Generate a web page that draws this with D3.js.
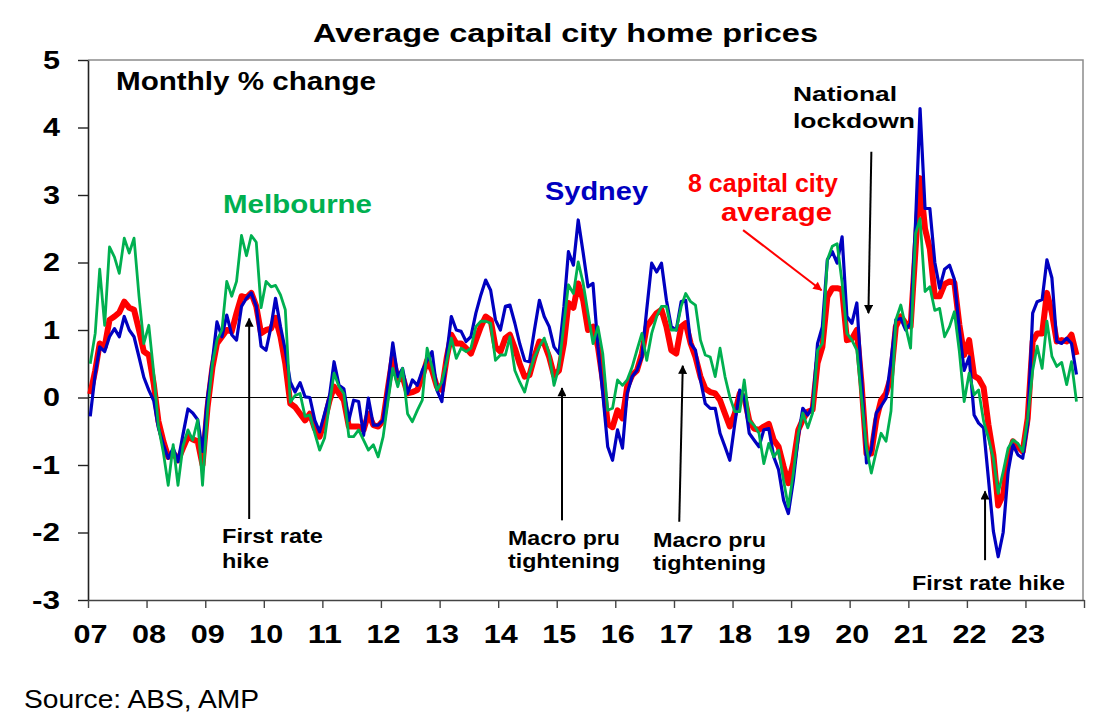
<!DOCTYPE html>
<html>
<head>
<meta charset="utf-8">
<title>Average capital city home prices</title>
<script src="https://cdn.jsdelivr.net/npm/d3@7"></script>
<style>
  body { margin: 0; background: #fff; }
  text { font-family: "Liberation Sans", Arial, sans-serif; }
</style>
</head>
<body>
<div id="chart-area"></div>
<script>
// monthly % change, Jan 2007 .. Nov 2023 (one row per year)
const startYear = 2007;

const sydney = [
  -0.28, 0.35, 0.75, 0.68, 0.9, 1.02, 0.9, 1.2, 1.0, 0.9, 0.6, 0.3,
  0.11, -0.05, -0.45, -0.7, -0.9, -0.75, -0.95, -0.55, -0.17, -0.23, -0.33, -0.8,
  0.0, 0.55, 1.12, 0.9, 1.22, 0.93, 0.85, 1.35, 1.47, 1.55, 1.35, 0.76,
  0.7, 1.05, 1.47, 1.05, 0.7, 0.23, 0.08, 0.22, 0.01, 0.0, -0.34, -0.51,
  -0.24, 0.03, 0.53, 0.18, 0.13, -0.34, -0.04, -0.06, -0.56, -0.01, -0.41, -0.41,
  -0.34, 0.21, 0.81, 0.31, 0.43, 0.06, 0.26, 0.18, 0.4, 0.55, 0.68, 0.11,
  -0.06, 0.65, 1.2, 1.0, 0.98, 0.83, 0.9, 1.25, 1.52, 1.74, 1.59, 1.15,
  1.0, 1.35, 1.37, 1.1, 0.8, 0.55, 0.53, 1.0, 1.44, 1.2, 1.05, 0.75,
  0.65, 1.35, 2.16, 1.96, 2.63, 2.14, 1.64, 1.69, 0.75, 0.06, -0.73, -0.93,
  -0.48, -0.75, 0.06, 0.31, 0.4, 0.6, 1.3, 1.99, 1.86, 1.99, 1.44, 1.05,
  1.0, 1.42, 1.44, 0.8, 0.7, 0.26, -0.09, -0.16, -0.16, -0.53, -0.73, -0.93,
  -0.39, 0.11, 0.01, -0.53, -0.63, -0.73, -0.48, -0.46, -0.88, -1.07, -1.52, -1.72,
  -1.23, -0.58, -0.16, -0.26, -0.13, 0.8, 1.05, 2.04, 2.16, 1.99, 2.38, 1.2,
  1.1, 1.4, 0.3, -0.97, -0.78, -0.23, -0.13, -0.01, 0.55, 1.15, 1.17, 1.0,
  1.1, 2.6, 4.28, 2.8, 2.8, 2.0, 1.62, 1.9, 1.96, 1.75, 1.0, 0.4,
  0.6, -0.26, -0.38, -0.45, -1.2, -1.98, -2.36, -2.0, -1.1, -0.7, -0.85, -0.9,
  -0.4, 1.25, 1.42, 1.45, 2.04, 1.77, 0.83, 0.8, 0.88, 0.8, 0.34
];

const melbourne = [
  0.5, 0.95, 1.9, 1.07, 2.23, 2.08, 1.84, 2.36, 2.14, 2.36, 1.5, 0.8,
  1.07, 0.36, -0.43, -0.82, -1.3, -0.7, -1.3, -0.72, -0.48, -0.63, -0.33, -1.3,
  -0.2, 0.5, 0.85, 1.0, 1.72, 1.5, 1.72, 2.4, 2.1, 2.4, 2.3, 1.33,
  1.72, 1.64, 1.66, 1.52, 1.3, -0.07, 0.03, 0.06, -0.28, -0.26, -0.53, -0.78,
  -0.6, -0.09, 0.36, 0.16, 0.06, -0.58, -0.58, -0.48, -0.63, -0.78, -0.7, -0.88,
  -0.58, -0.04, 0.43, 0.16, 0.43, -0.24, -0.36, -0.19, -0.04, 0.73, 0.45, 0.11,
  0.23, 0.55, 0.88, 0.58, 0.73, 0.68, 0.73, 1.05, 1.13, 1.13, 1.1, 0.55,
  0.63, 0.63, 0.9, 0.4, 0.23, 0.08, 0.36, 0.6, 0.75, 0.88, 0.65, 0.18,
  0.45, 1.1, 1.67, 1.54, 2.01, 1.69, 1.25, 0.8, 1.05, 0.65, -0.19, -0.16,
  0.26, 0.18, 0.26, 0.45, 0.7, 0.95, 0.55, 0.95, 1.2, 1.35, 1.35, 1.0,
  1.0, 1.35, 1.54, 1.42, 1.37, 0.85, 0.63, 0.6, 0.31, 0.73, 0.31, 0.01,
  -0.21, -0.21, 0.26, -0.34, -0.41, -0.53, -0.98, -0.68, -0.88, -0.78, -1.23, -1.62,
  -1.12, -0.53, -0.23, -0.45, -0.23, 0.7, 0.8, 2.04, 2.24, 2.28, 1.7, 0.95,
  0.85, 0.7, 0.0, -0.75, -1.12, -0.8, -0.53, -0.65, -0.2, 1.15, 1.37, 1.05,
  0.73, 2.43, 2.65, 1.57, 1.64, 1.29, 1.32, 0.9, 1.05, 1.27, 0.68, -0.06,
  0.36, 0.04, 0.11, -0.35, -0.6, -0.9, -1.42, -1.1, -0.75, -0.63, -0.68, -0.8,
  -0.31, 0.4, 0.76, 0.43, 1.13, 0.61, 0.46, 0.52, 0.19, 0.53, -0.06
];

const capitalAvg = [
  0.05, 0.4, 0.8, 0.75, 1.15, 1.2, 1.26, 1.42, 1.33, 1.3, 1.0, 0.68,
  0.63, 0.2, -0.35, -0.65, -0.88, -0.82, -0.93, -0.75, -0.58, -0.62, -0.65, -1.0,
  -0.15, 0.45, 0.8, 0.9, 1.0, 0.98, 1.25, 1.5, 1.48, 1.55, 1.35, 0.95,
  1.0, 1.02, 1.18, 0.9, 0.5, -0.09, -0.14, -0.24, -0.34, -0.24, -0.46, -0.58,
  -0.34, -0.04, 0.16, 0.06, -0.04, -0.43, -0.43, -0.43, -0.48, -0.24, -0.41, -0.43,
  -0.34, 0.16, 0.6, 0.26, 0.31, 0.06, 0.08, 0.11, 0.31, 0.55, 0.4, 0.16,
  0.11, 0.6, 0.93, 0.8, 0.8, 0.73, 0.65, 0.85, 1.05, 1.2, 1.15, 0.75,
  0.68, 0.88, 0.93, 0.73, 0.5, 0.31, 0.33, 0.6, 0.83, 0.8, 0.6, 0.33,
  0.4, 0.8, 1.4, 1.33, 1.69, 1.44, 1.0, 1.05, 0.75, 0.26, -0.39, -0.44,
  -0.19, -0.31, 0.16, 0.33, 0.4, 0.65, 1.05, 1.15, 1.25, 1.3, 1.05, 0.7,
  0.65, 1.05, 1.1, 0.8, 0.6, 0.31, 0.13, 0.08, 0.06, -0.04, -0.24, -0.43,
  -0.24, 0.06, 0.01, -0.34, -0.46, -0.48, -0.43, -0.39, -0.63, -0.73, -1.02, -1.27,
  -0.97, -0.48, -0.33, -0.21, -0.18, 0.51, 0.75, 1.49, 1.62, 1.62, 1.6, 0.85,
  0.87, 1.0, 0.21, -0.83, -0.83, -0.33, -0.04, 0.06, 0.31, 1.05, 1.2, 1.1,
  1.05, 2.2, 3.25, 2.5, 2.2, 1.5, 1.5, 1.68, 1.72, 1.7, 1.08, 0.63,
  0.85, 0.32, 0.28, 0.15, -0.4, -0.85, -1.6, -1.44, -0.9, -0.65, -0.73, -0.8,
  -0.31, 0.83, 0.95, 0.95, 1.55, 1.25, 0.83, 0.85, 0.83, 0.93, 0.63
];

const yTicks = [-3, -2, -1, 0, 1, 2, 3, 4, 5];
const yearLabels = ["07", "08", "09", "10", "11", "12", "13", "14", "15",
                    "16", "17", "18", "19", "20", "21", "22", "23"];

const width = 1117, height = 728;
const plot = { left: 88, right: 1083, top: 60, bottom: 600 };

const red = "#ff0000", blue = "#0000c0", green = "#00b050";

let svg = d3.select("#chart-area").append("svg")
    .attr("width", width).attr("height", height)
    .style("background", "#fff");

let x = d3.scaleTime()
    .domain([new Date(startYear, 0, 1), new Date(2024, 0, 1)])
    .range([plot.left, plot.right + 1]);
let y = d3.scaleLinear().domain([-3, 5]).range([plot.bottom, plot.top]);

// points sit in the middle of each month
const monthDate = i => new Date(startYear, i, 15);
// decimal year -> date, for the annotation arrows
const yr = t => {
  let yy = Math.floor(t);
  let s = new Date(yy, 0, 1), e = new Date(yy + 1, 0, 1);
  return new Date(+s + (t - yy) * (e - s));
};

// frame (grey top/right)
svg.append("path")
    .attr("d", `M${plot.left},${plot.top}H${plot.right}V${plot.bottom}`)
    .attr("fill", "none").attr("stroke", "#8c8c8c").attr("stroke-width", 1.5);

// zero line
svg.append("line")
    .attr("x1", plot.left).attr("x2", plot.right)
    .attr("y1", y(0)).attr("y2", y(0))
    .attr("stroke", "#000").attr("stroke-width", 1);

// axes
let yAxis = d3.axisLeft(y).tickValues(yTicks).tickSize(10).tickSizeOuter(0)
    .tickPadding(18).tickFormat(d => String(d));
let gy = svg.append("g").attr("transform", `translate(${plot.left},0)`).call(yAxis);
gy.select(".domain").attr("stroke", "#222").attr("stroke-width", 1.6);
gy.selectAll(".tick line").attr("stroke", "#222").attr("stroke-width", 1.4);
gy.selectAll(".tick text")
    .attr("font-family", "Liberation Sans, Arial, sans-serif")
    .attr("font-size", 25).attr("font-weight", "bold").attr("fill", "#000")
    .attr("textLength", d => String(d).length === 1 ? 17 : 28)
    .attr("lengthAdjust", "spacingAndGlyphs");

let yearTicks = d3.range(startYear, 2025).map(t => new Date(t, 0, 1));
let xAxis = d3.axisBottom(x).tickValues(yearTicks).tickSize(8).tickSizeOuter(0)
    .tickPadding(17).tickFormat((d, i) => yearLabels[i] || "");
let gx = svg.append("g").attr("transform", `translate(0,${plot.bottom})`).call(xAxis);
gx.select(".domain").attr("stroke", "#444").attr("stroke-width", 1.6);
gx.selectAll(".tick line").attr("stroke", "#444").attr("stroke-width", 1.4);
gx.selectAll(".tick text")
    .attr("font-family", "Liberation Sans, Arial, sans-serif")
    .attr("font-size", 25).attr("font-weight", "bold").attr("fill", "#000")
    .attr("dx", 2)
    .attr("textLength", (d, i) => yearLabels[i] ? 34 : null)
    .attr("lengthAdjust", "spacingAndGlyphs");

// series
let line = d3.line()
    .x((d, i) => x(monthDate(i)))
    .y(d => y(d));

let series = [
  { values: capitalAvg, color: red, w: 6 },
  { values: sydney, color: blue, w: 3.2 },
  { values: melbourne, color: green, w: 2.8 }
];

svg.selectAll("path.series").data(series).enter()
  .append("path")
    .attr("class", "series")
    .attr("d", d => line(d.values))
    .attr("fill", "none")
    .attr("stroke", d => d.color)
    .attr("stroke-width", d => d.w)
    .attr("stroke-linejoin", "round");

// arrow heads
let defs = svg.append("defs");
[["headBlack", "#000"], ["headRed", red]].forEach(([id, c]) => {
  defs.append("marker")
      .attr("id", id).attr("viewBox", "0 0 10 10")
      .attr("refX", 9).attr("refY", 5)
      .attr("markerUnits", "userSpaceOnUse")
      .attr("markerWidth", 11).attr("markerHeight", 9)
      .attr("orient", "auto")
    .append("path").attr("d", "M0,0L10,5L0,10z").attr("fill", c);
});

let arrows = [
  { x1: 2009.75, v1: -1.8, x2: 2009.75, v2: 1.17, c: "#000", m: "headBlack" },
  { x1: 2015.09, v1: -1.82, x2: 2015.09, v2: 0.14, c: "#000", m: "headBlack" },
  { x1: 2017.09, v1: -1.84, x2: 2017.15, v2: 0.47, c: "#000", m: "headBlack" },
  { x1: 2020.37, v1: 3.64, x2: 2020.32, v2: 1.25, c: "#000", m: "headBlack" },
  { x1: 2022.31, v1: -2.41, x2: 2022.31, v2: -1.39, c: "#000", m: "headBlack" },
  { x1: 2018.18, v1: 2.48, x2: 2019.52, v2: 1.59, c: red, m: "headRed" }
];

svg.selectAll("line.arrow").data(arrows).enter()
  .append("line")
    .attr("class", "arrow")
    .attr("x1", d => x(yr(d.x1))).attr("y1", d => y(d.v1))
    .attr("x2", d => x(yr(d.x2))).attr("y2", d => y(d.v2))
    .attr("stroke", d => d.c).attr("stroke-width", 2)
    .attr("marker-end", d => `url(#${d.m})`);

// text
function label(px, py, str, size, fill, len, weight) {
  let t = svg.append("text")
      .attr("x", px).attr("y", py)
      .attr("font-size", size)
      .attr("font-weight", weight || "bold")
      .attr("fill", fill)
      .text(str);
  if (len) t.attr("textLength", len).attr("lengthAdjust", "spacingAndGlyphs");
  return t;
}

label(313, 42, "Average capital city home prices", 26, "#000", 505);
label(116, 90, "Monthly % change", 25, "#000", 260);
label(223, 213, "Melbourne", 26, green, 149);
label(545, 200, "Sydney", 26, blue, 103);
label(688, 192, "8 capital city", 26, red, 150);
label(721, 221, "average", 26, red, 111);

label(793, 101, "National", 21, "#000", 104);
label(793, 128, "lockdown", 21, "#000", 122);
label(222, 543, "First rate", 21, "#000", 101);
label(222, 568, "hike", 21, "#000", 47);
label(508, 545, "Macro pru", 21, "#000", 112);
label(508, 568, "tightening", 21, "#000", 112);
label(653, 547, "Macro pru", 21, "#000", 113);
label(653, 570, "tightening", 21, "#000", 113);
label(912, 590, "First rate hike", 21, "#000", 153);

label(24, 708, "Source: ABS, AMP", 25, "#000", 235, "normal");
</script>
</body>
</html>
